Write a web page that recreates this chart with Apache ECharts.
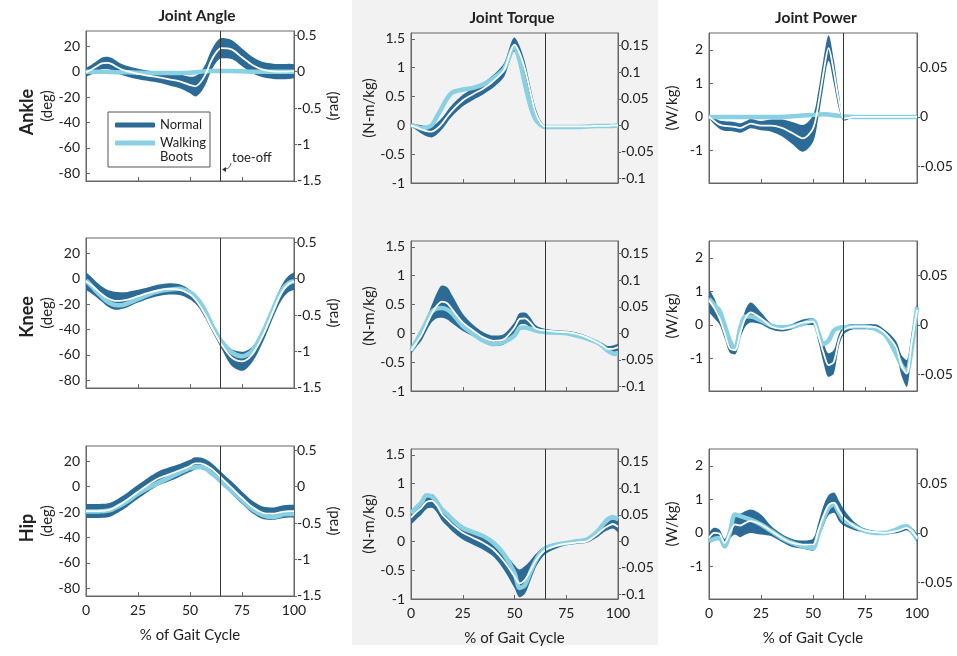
<!DOCTYPE html>
<html>
<head>
<meta charset="utf-8">
<script src="https://cdn.jsdelivr.net/npm/echarts@6/dist/echarts.min.js"></script>
<style>
html, body { margin: 0; background: #fff; }
#chart { width: 957px; height: 656px; }
</style>
</head>
<body>
<div id="chart"></div>
<script>
// % of gait cycle sample points
const pct = [0, 2.5, 5, 7.5, 10, 12.5, 15, 17.5, 20, 25, 30, 35, 40, 45, 50, 52.5, 55, 57.5, 60, 62.5, 65, 70, 75, 80, 85, 90, 92.5, 95, 97.5, 100];
const toeOff = 64.7;

// ankle
const ankleAngleMean = [-0.5, 1.5, 4, 6.5, 7, 6, 3.5, 1.5, 0.3, -1.8, -3.2, -4.5, -6, -7.6, -10.5, -11.5, -8.5, -2, 8, 15, 18.5, 17.5, 11.3, 5.3, 1.6, 0.3, 0, 0, 0.2, 0.3];
const ankleAngleSd = [3.5, 3.8, 4.2, 4.5, 4.8, 4.8, 4.6, 4.4, 4.2, 4.2, 4.2, 4.2, 4.8, 5.5, 6.5, 8, 8, 8, 8, 8, 8, 7.5, 7, 6.5, 6, 6, 6, 6, 6, 5.5];
const ankleAngleBoots = [0, 0, 0, 0, 0, -0.3, -0.5, -0.5, -0.5, -0.8, -1, -1, -1, -1, -0.8, -0.5, 0, 0.3, 0.5, 0.5, 0.5, 0.5, 0.3, 0, 0, 0, 0, 0, 0, 0];

const ankleTorqueMean = [0, -0.03, -0.07, -0.1, -0.11, -0.06, 0.03, 0.15, 0.26, 0.43, 0.54, 0.64, 0.77, 0.96, 1.4, 1.25, 0.98, 0.6, 0.24, 0.05, -0.02, -0.02, -0.02, -0.02, -0.02, -0.01, -0.01, -0.01, 0, 0];
const ankleTorqueSd = [0.03, 0.05, 0.07, 0.09, 0.1, 0.1, 0.1, 0.1, 0.1, 0.1, 0.1, 0.1, 0.11, 0.12, 0.12, 0.12, 0.12, 0.1, 0.08, 0.04, 0.015, 0.015, 0.015, 0.015, 0.015, 0.015, 0.015, 0.015, 0.015, 0.015];
const ankleTorqueBoots = [0, -0.02, -0.05, -0.04, 0, 0.15, 0.31, 0.47, 0.57, 0.62, 0.65, 0.71, 0.82, 0.98, 1.36, 1.12, 0.72, 0.36, 0.11, 0.01, -0.03, -0.03, -0.03, -0.03, -0.02, -0.01, -0.01, -0.01, -0.01, 0];

const anklePowerMean = [0, -0.12, -0.23, -0.27, -0.28, -0.3, -0.33, -0.27, -0.2, -0.26, -0.26, -0.33, -0.48, -0.64, -0.35, 0.35, 1.3, 2.05, 1.35, 0.45, -0.05, 0, 0, 0, 0, 0, 0, 0, 0, 0];
const anklePowerSd = [0.03, 0.1, 0.12, 0.14, 0.14, 0.14, 0.14, 0.14, 0.14, 0.14, 0.18, 0.25, 0.33, 0.4, 0.4, 0.4, 0.4, 0.38, 0.35, 0.22, 0.06, 0.015, 0.015, 0.015, 0.015, 0.015, 0.015, 0.015, 0.015, 0.015];
const anklePowerBoots = [0, 0, 0, 0, 0, 0, 0, 0, 0, 0, 0, 0, 0.02, 0.04, 0.06, 0.07, 0.08, 0.07, 0.05, 0.03, 0.01, 0, 0, 0, 0, 0, 0, 0, 0, 0];

// knee
const kneeAngleMean = [-2, -5, -8.6, -12, -15, -16.8, -17.5, -17.2, -16.4, -13.8, -11.2, -9.1, -8, -8.6, -12.5, -16.4, -22, -29, -37, -44.5, -51.5, -62, -65, -59.5, -45, -25.5, -16, -8.6, -4, -2];
const kneeAngleSd = [7, 6.5, 6, 6, 6.5, 7, 7, 6.5, 6, 5, 4.5, 4.5, 4.5, 4.2, 3.8, 3.2, 2.6, 2.6, 2.6, 2.6, 3.2, 6.5, 7.5, 6, 5, 5, 5.5, 6, 6.5, 7];
const kneeAngleBoots = [-1.3, -5.5, -10, -14, -17.7, -20, -21, -20.8, -19.5, -16, -12.5, -10, -8.6, -8, -10.7, -13.8, -19, -26, -34.6, -42.4, -48.9, -58, -61, -56.7, -42.4, -23.7, -14, -7.3, -3.5, -2];

const kneeTorqueMean = [-0.3, -0.17, -0.04, 0.15, 0.34, 0.48, 0.55, 0.52, 0.41, 0.19, 0.05, -0.07, -0.13, -0.1, 0.1, 0.25, 0.26, 0.19, 0.09, 0.06, 0.05, 0.03, 0.02, -0.01, -0.07, -0.16, -0.21, -0.27, -0.27, -0.24];
const kneeTorqueSd = [0.06, 0.07, 0.09, 0.11, 0.15, 0.22, 0.28, 0.28, 0.24, 0.15, 0.1, 0.09, 0.09, 0.09, 0.09, 0.1, 0.1, 0.09, 0.06, 0.04, 0.025, 0.025, 0.025, 0.025, 0.025, 0.03, 0.04, 0.05, 0.06, 0.06];
const kneeTorqueBoots = [-0.3, -0.14, 0.02, 0.2, 0.37, 0.43, 0.44, 0.41, 0.34, 0.13, -0.01, -0.13, -0.19, -0.15, -0.04, 0.09, 0.1, 0.08, 0.05, 0.03, 0.02, 0.01, 0, -0.04, -0.09, -0.16, -0.22, -0.3, -0.35, -0.36];

const kneePowerMean = [0.73, 0.5, 0.2, -0.25, -0.7, -0.75, -0.25, 0.2, 0.37, 0.2, -0.05, -0.12, -0.05, 0.07, 0.1, -0.3, -0.82, -1.2, -1.1, -0.45, -0.15, -0.05, -0.05, -0.07, -0.27, -0.67, -1.2, -1.45, -0.5, 0.45];
const kneePowerSd = [0.35, 0.3, 0.18, 0.15, 0.13, 0.13, 0.15, 0.25, 0.3, 0.18, 0.09, 0.08, 0.08, 0.09, 0.1, 0.18, 0.3, 0.35, 0.35, 0.18, 0.12, 0.08, 0.08, 0.09, 0.1, 0.18, 0.3, 0.4, 0.3, 0.18];
const kneePowerBoots = [0.78, 0.6, 0.43, 0, -0.47, -0.72, -0.1, 0.25, 0.25, 0.13, -0.02, -0.07, -0.05, 0.03, 0.13, -0.22, -0.57, -0.47, -0.17, -0.09, -0.07, -0.05, -0.05, -0.12, -0.32, -0.87, -1.2, -1.4, -0.67, 0.53];

// hip
const hipAngleMean = [-19.2, -19.2, -19.2, -19, -18.7, -17.5, -15.3, -12.8, -10, -4, 1.8, 6.6, 9.7, 12.9, 16.3, 18.4, 18.4, 17, 14.5, 11, 7.1, -0.8, -8.7, -16, -20.5, -21.3, -20.5, -19.7, -19.3, -19.2];
const hipAngleSd = [5.5, 5.5, 5.5, 5.5, 5.5, 5.5, 5.5, 5.5, 5.5, 5.5, 5.5, 5.5, 5.5, 5, 4.8, 4.8, 4.5, 4.5, 4.5, 4.5, 4.5, 5, 5, 5, 5, 5, 5, 5, 5, 5];
const hipAngleBoots = [-19.5, -19.5, -19.5, -19.3, -19, -18, -16, -13.8, -11.3, -5.5, -0.8, 3.2, 7.1, 11, 14.5, 15.3, 15.5, 14.5, 11, 7.8, 3.9, -3.4, -10.8, -17.9, -22.4, -24, -23, -21.8, -21.5, -21.3];

const hipTorqueMean = [0.41, 0.5, 0.58, 0.68, 0.7, 0.62, 0.47, 0.38, 0.29, 0.15, 0.06, -0.03, -0.15, -0.35, -0.61, -0.73, -0.67, -0.52, -0.35, -0.23, -0.15, -0.08, -0.04, -0.02, 0, 0.12, 0.2, 0.26, 0.3, 0.25];
const hipTorqueSd = [0.12, 0.12, 0.12, 0.12, 0.12, 0.12, 0.12, 0.12, 0.12, 0.12, 0.12, 0.12, 0.12, 0.15, 0.2, 0.24, 0.24, 0.18, 0.12, 0.09, 0.07, 0.05, 0.03, 0.025, 0.025, 0.05, 0.06, 0.07, 0.08, 0.1];
const hipTorqueBoots = [0.49, 0.58, 0.67, 0.8, 0.78, 0.68, 0.55, 0.47, 0.38, 0.23, 0.16, 0.09, -0.03, -0.23, -0.55, -0.81, -0.76, -0.55, -0.35, -0.2, -0.12, -0.06, -0.03, 0, 0.03, 0.17, 0.28, 0.38, 0.42, 0.38];

const hipPowerMean = [-0.15, 0, -0.02, -0.3, 0, 0.25, 0.22, 0.3, 0.35, 0.25, 0.05, -0.15, -0.3, -0.35, -0.35, 0.05, 0.5, 0.83, 0.9, 0.65, 0.45, 0.2, 0.07, 0.02, 0, 0.05, 0.1, 0.15, 0.05, -0.15];
const hipPowerSd = [0.15, 0.15, 0.12, 0.12, 0.18, 0.3, 0.35, 0.35, 0.35, 0.3, 0.15, 0.12, 0.12, 0.12, 0.18, 0.24, 0.3, 0.3, 0.3, 0.3, 0.24, 0.12, 0.06, 0.04, 0.04, 0.06, 0.07, 0.07, 0.1, 0.12];
const hipPowerBoots = [-0.25, -0.18, -0.15, -0.4, 0, 0.55, 0.5, 0.45, 0.4, 0.25, 0.05, -0.15, -0.3, -0.4, -0.45, -0.05, 0.4, 0.75, 0.85, 0.6, 0.37, 0.2, 0.05, 0, 0, 0.1, 0.17, 0.2, 0.05, -0.2];

// tick labels
const angleTicks = [-80, -60, -40, -20, 0, 20];
const radTicks = [-1.5, -1, -0.5, 0, 0.5];
const torqueTicks = [-1, -0.5, 0, 0.5, 1, 1.5];
const torqueRightTicks = [-0.1, -0.05, 0, 0.05, 0.1, 0.15];
const powerTicks = [-1, 0, 1, 2];
const powerRightTicks = [-0.05, 0, 0.05];

const colTitles = ['Joint Angle', 'Joint Torque', 'Joint Power'];
const rowTitles = ['Ankle', 'Knee', 'Hip'];

const DARK = '#2c6b95';
const LIGHT = '#88d0e2';
const AXIS = '#666';
const TEXT = '#222';
const FONT = 'Lato, "Open Sans", sans-serif';

const colLeft = [86, 411, 709];
const colWidth = [208, 207, 208];
const colTops = [[31, 238, 446], [33, 241, 449], [33, 241, 449]];
const plotH = 150;

const kinds = [
    { min: -86, max: 32, ticks: angleTicks, rmin: -86 * Math.PI / 180, rmax: 32 * Math.PI / 180, rticks: radTicks, name: '(deg)', rname: '(rad)', gap: 31 },
    { min: -1, max: 1.6, ticks: torqueTicks, rmin: -1 / 9.2, rmax: 1.6 / 9.2, rticks: torqueRightTicks, name: '(N-m/kg)', rname: '', gap: 34 },
    { min: -1.97, max: 2.5, ticks: powerTicks, rmin: -1.97 / 29.7, rmax: 2.5 / 29.7, rticks: powerRightTicks, name: '(W/kg)', rname: '', gap: 29 }
];

const panels = [
    [ankleAngleMean, ankleAngleSd, ankleAngleBoots],
    [ankleTorqueMean, ankleTorqueSd, ankleTorqueBoots],
    [anklePowerMean, anklePowerSd, anklePowerBoots],
    [kneeAngleMean, kneeAngleSd, kneeAngleBoots],
    [kneeTorqueMean, kneeTorqueSd, kneeTorqueBoots],
    [kneePowerMean, kneePowerSd, kneePowerBoots],
    [hipAngleMean, hipAngleSd, hipAngleBoots],
    [hipTorqueMean, hipTorqueSd, hipTorqueBoots],
    [hipPowerMean, hipPowerSd, hipPowerBoots]
];

const grid = [], xAxis = [], yAxis = [], series = [];

panels.forEach(function (p, i) {
    const row = Math.floor(i / 3), col = i % 3;
    const k = kinds[col];
    const mean = p[0], sd = p[1], boots = p[2];

    grid.push({
        left: colLeft[col], top: colTops[col][row], width: colWidth[col], height: plotH,
        show: true, borderColor: AXIS, borderWidth: 1, backgroundColor: 'transparent'
    });

    xAxis.push({
        gridIndex: i, type: 'value', min: 0, max: 100, interval: 25,
        axisLine: { show: true, onZero: false, lineStyle: { color: AXIS } },
        axisTick: { show: true, inside: true, length: 4, lineStyle: { color: AXIS } },
        axisLabel: { show: row === 2, color: TEXT, fontFamily: FONT, fontSize: 14, margin: 7 },
        splitLine: { show: false },
        name: row === 2 ? '% of Gait Cycle' : '',
        nameLocation: 'middle', nameGap: 32,
        nameTextStyle: { color: TEXT, fontFamily: FONT, fontSize: 15 }
    });

    yAxis.push({
        gridIndex: i, type: 'value', position: 'left', min: k.min, max: k.max,
        axisLine: { show: true, onZero: false, lineStyle: { color: AXIS } },
        axisTick: { show: true, inside: true, length: 4, customValues: k.ticks, lineStyle: { color: AXIS } },
        axisLabel: { customValues: k.ticks, color: TEXT, fontFamily: FONT, fontSize: 14, margin: 6 },
        splitLine: { show: false },
        name: k.name, nameLocation: 'middle', nameRotate: 90, nameGap: k.gap,
        nameTextStyle: { color: TEXT, fontFamily: FONT, fontSize: 15 }
    });
    yAxis.push({
        gridIndex: i, type: 'value', position: 'right', min: k.rmin, max: k.rmax,
        axisLine: { show: true, onZero: false, lineStyle: { color: AXIS } },
        axisTick: { show: true, inside: false, length: 3, customValues: k.rticks, lineStyle: { color: AXIS } },
        axisLabel: { customValues: k.rticks, color: TEXT, fontFamily: FONT, fontSize: 14, margin: 3 },
        splitLine: { show: false },
        name: k.rname, nameLocation: 'middle', nameRotate: 90, nameGap: 31,
        nameTextStyle: { color: TEXT, fontFamily: FONT, fontSize: 15 }
    });

    const common = {
        type: 'line', xAxisIndex: i, yAxisIndex: 2 * i, smooth: 0.3,
        symbol: 'none', silent: true, animation: false
    };

    // Normal: lower edge + stacked spread band.
    // value is put first so the stack runs on y, not on x
    series.push(Object.assign({}, common, {
        name: '_lo' + i, stack: 'band' + i, stackStrategy: 'all',
        encode: { x: 1, y: 0 },
        lineStyle: { width: 0, opacity: 0 },
        data: pct.map(function (x, j) { return [mean[j] - sd[j], x]; })
    }));
    series.push(Object.assign({}, common, {
        name: 'Normal', stack: 'band' + i, stackStrategy: 'all', color: DARK,
        encode: { x: 1, y: 0 },
        lineStyle: { width: 0, opacity: 0 },
        areaStyle: { color: DARK, opacity: 1 },
        data: pct.map(function (x, j) { return [2 * sd[j], x]; })
    }));
    // Walking Boots
    series.push(Object.assign({}, common, {
        name: 'Walking Boots', color: LIGHT,
        lineStyle: { color: LIGHT, width: 4.5 },
        data: pct.map(function (x, j) { return [x, boots[j]]; })
    }));
    // Normal mean
    series.push(Object.assign({}, common, {
        name: '_mean' + i, color: '#fff',
        lineStyle: { color: '#fff', width: 1.8 },
        data: pct.map(function (x, j) { return [x, mean[j]]; }),
        markLine: {
            silent: true, symbol: 'none', animation: false,
            label: { show: false },
            lineStyle: { color: '#333', width: 1, type: 'solid' },
            data: [{ xAxis: toeOff }]
        }
    }));
});

const graphic = [
    { type: 'rect', z: -10, silent: true, shape: { x: 352, y: 0, width: 306, height: 645 }, style: { fill: '#f2f2f2' } }
];
const titleX = [197, 512, 816], titleY = [16, 18, 18];
colTitles.forEach(function (t, c) {
    graphic.push({
        type: 'text', x: titleX[c], y: titleY[c],
        style: { text: t, fill: TEXT, fontFamily: FONT, fontSize: 15.5, fontWeight: 'bold', align: 'center', verticalAlign: 'middle' }
    });
});
const rowLabelY = [112, 317, 528];
rowTitles.forEach(function (t, r) {
    graphic.push({
        type: 'text', x: 27, y: rowLabelY[r], rotation: Math.PI / 2,
        style: { text: t, fill: TEXT, fontFamily: FONT, fontSize: 18, fontWeight: 'bold', align: 'center', verticalAlign: 'middle' }
    });
});
// toe-off note
graphic.push({
    type: 'text', x: 232, y: 158,
    style: { text: 'toe-off', fill: TEXT, fontFamily: FONT, fontSize: 13, align: 'left', verticalAlign: 'middle' }
});
graphic.push({
    type: 'bezierCurve', silent: true,
    shape: { x1: 231, y1: 163, cpx1: 230, cpy1: 169, x2: 225, y2: 169 },
    style: { stroke: '#333', lineWidth: 0.8, fill: null }
});
graphic.push({
    type: 'polygon', silent: true,
    shape: { points: [[222, 169.5], [226, 167], [226, 172]] },
    style: { fill: '#333' }
});

const option = {
    animation: false,
    backgroundColor: '#fff',
    grid: grid,
    xAxis: xAxis,
    yAxis: yAxis,
    series: series,
    graphic: graphic,
    legend: {
        left: 108, top: 112, orient: 'vertical',
        padding: [6, 4, 3, 7], itemGap: -10,
        itemWidth: 40, itemHeight: 5,
        backgroundColor: '#fff', borderColor: '#555', borderWidth: 1,
        selectedMode: false,
        textStyle: { color: TEXT, fontFamily: FONT, fontSize: 13, lineHeight: 14 },
        formatter: function (name) { return name === 'Walking Boots' ? '\nWalking\nBoots' : name; },
        data: [
            { name: 'Normal', icon: 'roundRect', itemStyle: { color: DARK } },
            { name: 'Walking Boots', icon: 'roundRect', itemStyle: { color: LIGHT } }
        ]
    }
};

const chart = echarts.init(document.getElementById('chart'));
chart.setOption(option);
</script>
</body>
</html>
